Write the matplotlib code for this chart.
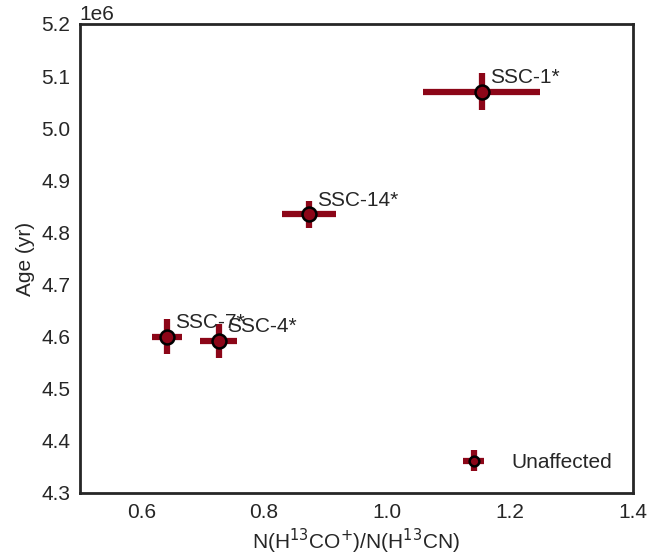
import numpy as np
import matplotlib.pyplot as plt
import seaborn as sns

sns.set_style("white")
plt.rcParams['font.family'] = ['Liberation Sans', 'DejaVu Sans']

# data
names = ['SSC-1*', 'SSC-14*', 'SSC-7*', 'SSC-4*']
ratio = [1.154, 0.873, 0.642, 0.726]
ratio_err = [0.095, 0.044, 0.024, 0.030]
age = [5.07e6, 4.835e6, 4.600e6, 4.592e6]
age_err = [0.036e6, 0.026e6, 0.033e6, 0.033e6]

col = '#8c0618'
fs = 15

fig = plt.figure(figsize=(6.71, 5.58), dpi=100)
ax = fig.add_axes([0.119, 0.1165, 0.824, 0.8405])

ax.errorbar(ratio, age, xerr=ratio_err, yerr=age_err, fmt='o', color=col,
            ecolor=col, elinewidth=4.5, capsize=0, markersize=10,
            markerfacecolor=col, markeredgecolor='black', markeredgewidth=1.8,
            label='Unaffected')

for n, x, y in zip(names, ratio, age):
    ax.annotate(n, (x, y), xytext=(6, 6), textcoords='offset points',
                fontsize=fs, color='#262626')

ax.set_xlim(0.5, 1.4)
ax.set_ylim(4.3e6, 5.2e6)
ax.set_xticks([0.6, 0.8, 1.0, 1.2, 1.4])
ax.set_yticks(np.arange(4.3e6, 5.21e6, 0.1e6))
ax.tick_params(labelsize=fs, colors='#262626')
ax.yaxis.get_offset_text().set_fontsize(fs)

ax.set_xlabel(r'N(H$^{13}$CO$^{+}$)/N(H$^{13}$CN)', fontsize=fs, color='#262626')
ax.set_ylabel('Age (yr)', fontsize=fs, color='#262626')

for s in ax.spines.values():
    s.set_color('#262626')
    s.set_linewidth(2)

ax.legend(loc='lower right', frameon=False, fontsize=fs, markerscale=0.7,
          borderaxespad=0.6)

fig.savefig('out.png', dpi=100)
